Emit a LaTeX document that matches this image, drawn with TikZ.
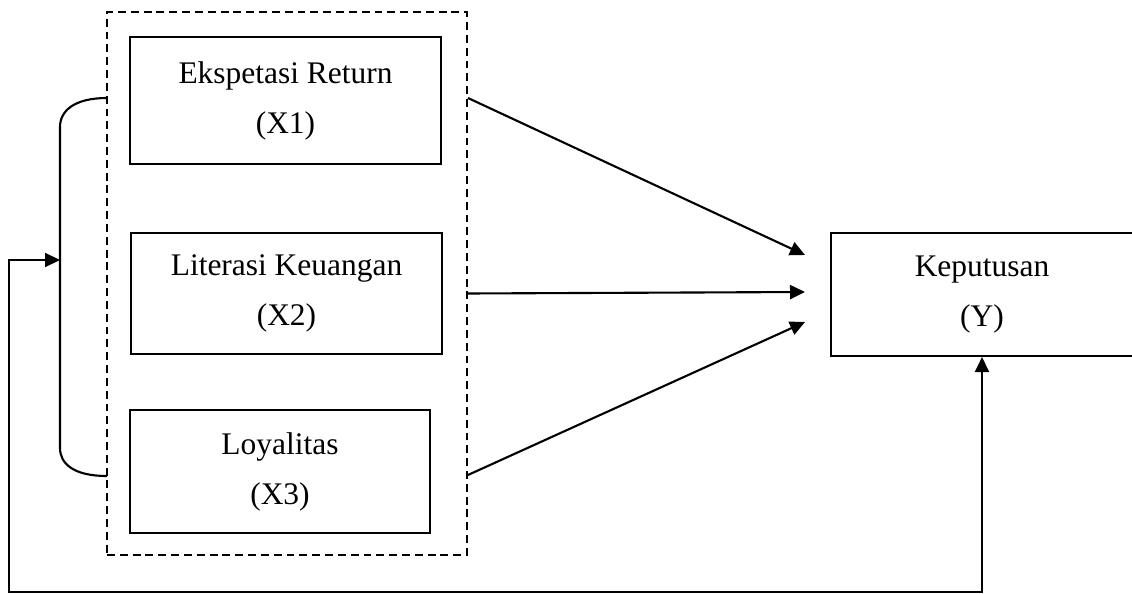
\documentclass[tikz,border=0pt]{standalone}
\usepackage{fontspec}
\setmainfont{Liberation Serif}
\usetikzlibrary{arrows.meta,fit}

\begin{document}
\begin{tikzpicture}[x=.02cm,y=-.02cm,line width=1.2pt,
  var/.style={draw,align=center,inner sep=0pt,font=\fontsize{17.9}{28.5}\selectfont},
  group/.style={draw,line width=1.1pt,dash pattern=on 4.5pt off 2.8pt,inner sep=0pt},
  arr/.style={-{Triangle[length=.3cm,width=.28cm]}},
  darr/.style={{Triangle[length=.3cm,width=.28cm]}-{Triangle[length=.3cm,width=.28cm]}}]
\useasboundingbox (0,0) rectangle (1132,594);
% independent variables
\node[var,minimum width=6.22cm,minimum height=2.54cm] (x1) at (285.5,100.5) {Ekspetasi Return\\(X1)};
\node[var,minimum width=6.22cm,minimum height=2.42cm] (x2) at (286.5,293.5) {Literasi Keuangan\\(X2)};
\node[var,minimum width=6.0cm,minimum height=2.46cm] (x3) at (280,471.5) {Loyalitas\\(X3)};
\node[group,fit={(107,12)(467,555)}] (grp) {};
% dependent variable
\node[var,minimum width=6.04cm,minimum height=2.46cm] (y) at (982,294.5) {Keputusan\\(Y)};
% bracket round the three variables
\draw (107,98) .. controls (74,98) and (60,111) .. (60,127) -- (60,448) .. controls (60,464) and (74,476) .. (107,476);
\coordinate (brace) at (60,260);
\coordinate (loop) at (9,592);
\coordinate (in1) at (805,255);
\coordinate (in2) at (805,292);
\coordinate (in3) at (805,322);
\draw[arr] (grp.east |- 0,98) -- (in1);
\draw[arr] (grp.east |- x2) -- (in2);
\draw[arr] (grp.east |- 0,475) -- (in3);
\draw[darr] (brace) -| (loop) -| (y.south);
\end{tikzpicture}
\end{document}
